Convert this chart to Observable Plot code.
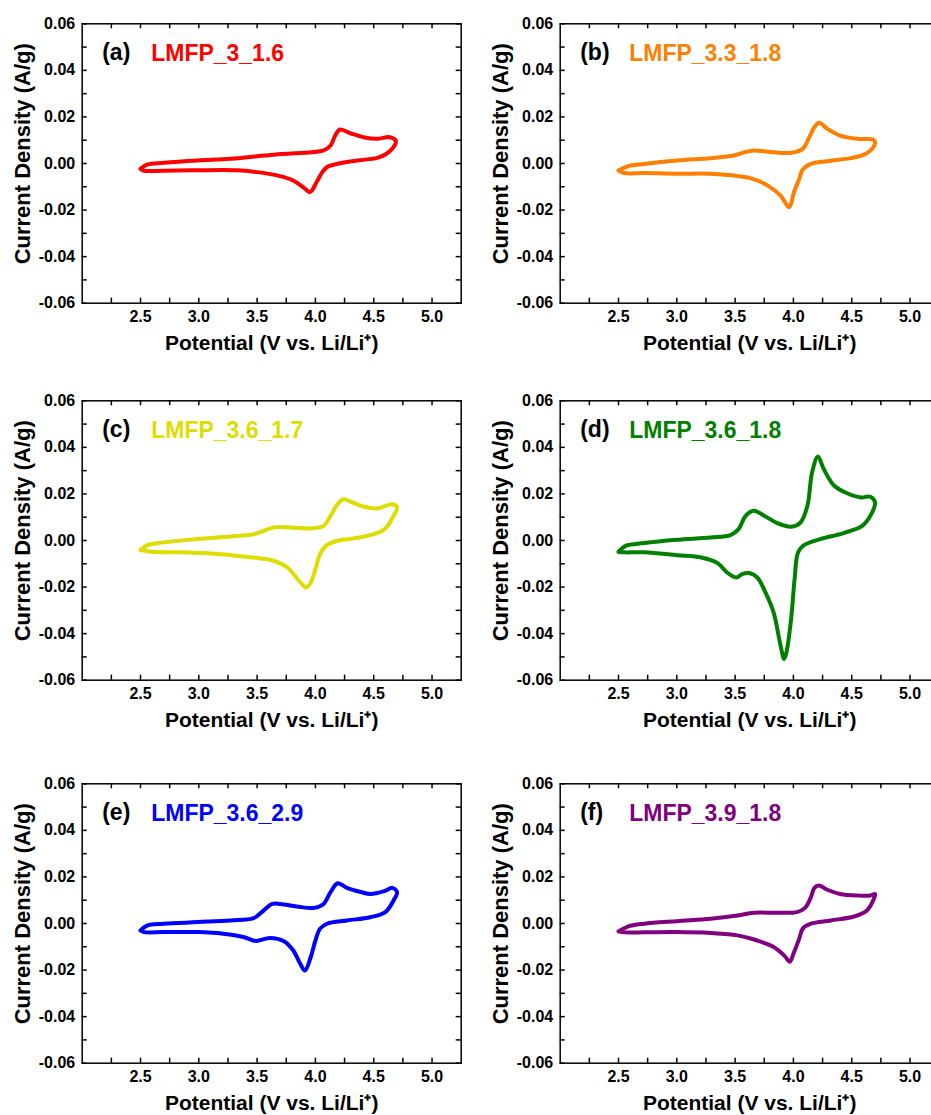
<!DOCTYPE html>
<html>
<head>
<meta charset="utf-8">
<script src="https://cdn.jsdelivr.net/npm/d3@7"></script>
<script src="https://cdn.jsdelivr.net/npm/@observablehq/plot@0.6"></script>
<style>
html, body { margin: 0; padding: 0; background: #fff; overflow: hidden; }
#wrap { position: relative; width: 931px; height: 1115px; overflow: hidden; background: #fff; }
#wrap > svg { position: absolute; }
</style>
</head>
<body>
<div id="wrap"></div>
<script>
// ---- Data: potential (V vs Li/Li+), current density (A/g), one closed CV loop per sample ----
const cvA = [[2.50,-0.0023],[2.56,-0.0004],[2.70,0.0003],[2.99,0.0013],[3.27,0.0020],[3.56,0.0034],[3.70,0.0041],[3.90,0.0046],[4.07,0.0056],[4.13,0.0077],[4.17,0.0120],[4.21,0.0146],[4.30,0.0130],[4.41,0.0113],[4.53,0.0106],[4.64,0.0113],[4.69,0.0096],
  [4.67,0.0070],[4.61,0.0042],[4.53,0.0024],[4.36,0.0013],[4.19,-0.0001],[4.10,-0.0015],[4.06,-0.0037],[4.01,-0.0080],[3.97,-0.0116],[3.95,-0.0123],[3.90,-0.0104],[3.81,-0.0073],[3.67,-0.0051],[3.50,-0.0037],[3.33,-0.0029],[2.99,-0.0029],[2.70,-0.0031],[2.53,-0.0031],[2.50,-0.0023]];
const cvB = [[2.50,-0.0030],[2.58,-0.0012],[2.72,-0.0002],[3.00,0.0013],[3.29,0.0023],[3.49,0.0034],[3.58,0.0048],[3.66,0.0056],[3.81,0.0049],[3.98,0.0046],[4.08,0.0063],[4.13,0.0106],[4.18,0.0156],[4.22,0.0175],[4.29,0.0149],[4.40,0.0120],[4.55,0.0106],[4.68,0.0103],[4.70,0.0094],
  [4.68,0.0066],[4.60,0.0037],[4.49,0.0023],[4.29,0.0010],[4.15,-0.0002],[4.08,-0.0026],[4.05,-0.0066],[4.00,-0.0131],[3.98,-0.0173],[3.96,-0.0187],[3.89,-0.0138],[3.78,-0.0095],[3.63,-0.0063],[3.49,-0.0052],[3.29,-0.0044],[3.00,-0.0044],[2.72,-0.0041],[2.55,-0.0041],[2.50,-0.0030]];
const cvC = [[2.50,-0.0041],[2.56,-0.0020],[2.70,-0.0008],[2.99,0.0006],[3.27,0.0017],[3.47,0.0027],[3.56,0.0042],[3.64,0.0056],[3.79,0.0056],[3.96,0.0052],[4.07,0.0063],[4.13,0.0106],[4.19,0.0156],[4.24,0.0177],[4.30,0.0167],[4.41,0.0146],[4.53,0.0138],[4.66,0.0156],[4.70,0.0142],
  [4.67,0.0106],[4.60,0.0052],[4.50,0.0027],[4.33,0.0009],[4.19,-0.0001],[4.09,-0.0023],[4.04,-0.0058],[4.00,-0.0123],[3.96,-0.0180],[3.92,-0.0202],[3.86,-0.0173],[3.76,-0.0116],[3.64,-0.0087],[3.53,-0.0077],[3.39,-0.0069],[3.16,-0.0058],[2.87,-0.0051],[2.59,-0.0048],[2.50,-0.0041]];
const cvD = [[2.50,-0.0049],[2.56,-0.0023],[2.72,-0.0011],[3.00,0.0003],[3.29,0.0013],[3.46,0.0023],[3.53,0.0049],[3.59,0.0106],[3.66,0.0128],[3.75,0.0106],[3.86,0.0075],[3.98,0.0059],[4.06,0.0077],[4.12,0.0149],[4.16,0.0292],[4.21,0.0361],[4.26,0.0307],[4.35,0.0235],[4.46,0.0203],[4.58,0.0185],[4.66,0.0188],[4.70,0.0163],
  [4.66,0.0106],[4.59,0.0063],[4.43,0.0032],[4.23,0.0006],[4.09,-0.0020],[4.04,-0.0051],[4.01,-0.0166],[3.98,-0.0338],[3.94,-0.0481],[3.92,-0.0509],[3.89,-0.0452],[3.83,-0.0309],[3.76,-0.0223],[3.69,-0.0159],[3.62,-0.0140],[3.56,-0.0144],[3.51,-0.0159],[3.43,-0.0137],[3.35,-0.0097],[3.21,-0.0073],[3.00,-0.0063],[2.72,-0.0051],[2.55,-0.0051],[2.50,-0.0049]];
const cvE = [[2.50,-0.0030],[2.56,-0.0008],[2.70,-0.0001],[2.99,0.0006],[3.27,0.0013],[3.47,0.0023],[3.54,0.0049],[3.63,0.0084],[3.70,0.0084],[3.84,0.0073],[3.99,0.0067],[4.07,0.0084],[4.13,0.0135],[4.19,0.0173],[4.27,0.0153],[4.39,0.0135],[4.47,0.0127],[4.59,0.0139],[4.66,0.0153],[4.70,0.0135],
  [4.67,0.0099],[4.60,0.0049],[4.47,0.0027],[4.27,0.0013],[4.10,-0.0001],[4.04,-0.0022],[4.00,-0.0073],[3.96,-0.0144],[3.91,-0.0202],[3.87,-0.0173],[3.81,-0.0116],[3.73,-0.0076],[3.61,-0.0062],[3.49,-0.0075],[3.39,-0.0059],[3.21,-0.0044],[2.99,-0.0037],[2.70,-0.0037],[2.53,-0.0037],[2.50,-0.0030]];
const cvF = [[2.50,-0.0034],[2.58,-0.0013],[2.72,-0.0001],[3.00,0.0010],[3.29,0.0020],[3.52,0.0034],[3.66,0.0046],[3.86,0.0046],[4.03,0.0049],[4.10,0.0067],[4.15,0.0113],[4.18,0.0153],[4.22,0.0163],[4.29,0.0145],[4.40,0.0127],[4.55,0.0120],[4.66,0.0120],[4.70,0.0127],
  [4.69,0.0106],[4.63,0.0056],[4.52,0.0030],[4.32,0.0013],[4.15,-0.0001],[4.08,-0.0022],[4.05,-0.0065],[4.00,-0.0130],[3.97,-0.0164],[3.92,-0.0137],[3.83,-0.0101],[3.69,-0.0073],[3.52,-0.0051],[3.29,-0.0041],[3.00,-0.0037],[2.72,-0.0038],[2.55,-0.0038],[2.50,-0.0034]];

const panelLetters = ["(a)", "(b)", "(c)", "(d)", "(e)", "(f)"];
const sampleNames = ["LMFP_3_1.6", "LMFP_3.3_1.8", "LMFP_3.6_1.7", "LMFP_3.6_1.8", "LMFP_3.6_2.9", "LMFP_3.9_1.8"];
const sampleColors = ["#ff0000", "#ff7f00", "#dddd00", "#008000", "#0000ff", "#800080"];

const xMajorTicks = [2.5, 3.0, 3.5, 4.0, 4.5, 5.0];
const xMinorTicks = [2.25, 2.75, 3.25, 3.75, 4.25, 4.75];
const yMajorTicks = [-0.06, -0.04, -0.02, 0.00, 0.02, 0.04, 0.06];
const yMinorTicks = [-0.05, -0.03, -0.01, 0.01, 0.03, 0.05];

const xLabel = "Potential (V vs. Li/Li\u207A)";
const yLabel = "Current Density (A/g)";

// ---- Layout ----
const curves = [cvA, cvB, cvC, cvD, cvE, cvF];
const innerW = 379, innerH = 279.4;
const mL = 81.7, mT = 23.3, mR = 12, mB = 72;
const colLeft = [0, 477.7];
const rowTop = [0, 376.7, 760];
const tickLen = 5;

const xTicksAll = [...xMajorTicks, ...xMinorTicks];
const yTicksAll = [...yMajorTicks, ...yMinorTicks];

const wrap = document.getElementById("wrap");

curves.forEach((cv, i) => {
  const data = cv.map(([v, j]) => ({v, j}));
  const color = sampleColors[i];
  const svg = Plot.plot({
    width: mL + innerW + mR,
    height: mT + innerH + mB,
    marginLeft: mL, marginRight: mR, marginTop: mT, marginBottom: mB,
    x: {domain: [2, 5.25]},
    y: {domain: [-0.06, 0.06]},
    style: {
      fontFamily: "Arial, 'Liberation Sans', Helvetica, sans-serif",
      fontWeight: "bold",
      fontSize: "16px",
      color: "black",
      background: "transparent",
      overflow: "visible"
    },
    marks: [
      Plot.line(data, {x: "v", y: "j", stroke: color, strokeWidth: 4, curve: "catmull-rom", strokeLinejoin: "round", strokeLinecap: "round"}),
      // inward ticks on all four sides
      Plot.tickX(xTicksAll, {x: d => d, insetTop: innerH - tickLen, stroke: "black", strokeWidth: 1.5}),
      Plot.tickX(xTicksAll, {x: d => d, insetBottom: innerH - tickLen, stroke: "black", strokeWidth: 1.5}),
      Plot.tickY(yTicksAll, {y: d => d, insetRight: innerW - tickLen, stroke: "black", strokeWidth: 1.5}),
      Plot.tickY(yTicksAll, {y: d => d, insetLeft: innerW - tickLen, stroke: "black", strokeWidth: 1.5}),
      Plot.frame({stroke: "black", strokeWidth: 1.5}),
      Plot.axisX(xMajorTicks, {tickSize: 0, tickPadding: 7, tickFormat: d => d.toFixed(1), label: null}),
      Plot.axisY(yMajorTicks, {tickSize: 0, tickPadding: 7, tickFormat: d => d.toFixed(2), label: null}),
      Plot.text([yLabel], {text: d => d, frameAnchor: "left", rotate: -90, textAnchor: "middle", lineAnchor: "bottom", dx: -52.4, dy: -9.7, fontSize: 22}),
      Plot.text([xLabel], {text: d => d, frameAnchor: "bottom", textAnchor: "middle", lineAnchor: "bottom", dy: 47, fontSize: 21}),
      Plot.text([panelLetters[i]], {text: d => d, frameAnchor: "top-left", textAnchor: "start", lineAnchor: "bottom", dx: 20, dy: 36, fontSize: 23, fill: "black"}),
      Plot.text([sampleNames[i]], {text: d => d, frameAnchor: "top-left", textAnchor: "start", lineAnchor: "bottom", dx: 69, dy: 37, fontSize: 23, fill: color})
    ]
  });
  svg.style.left = colLeft[i % 2] + "px";
  svg.style.top = rowTop[Math.floor(i / 2)] + "px";
  wrap.appendChild(svg);
});
</script>
</body>
</html>
